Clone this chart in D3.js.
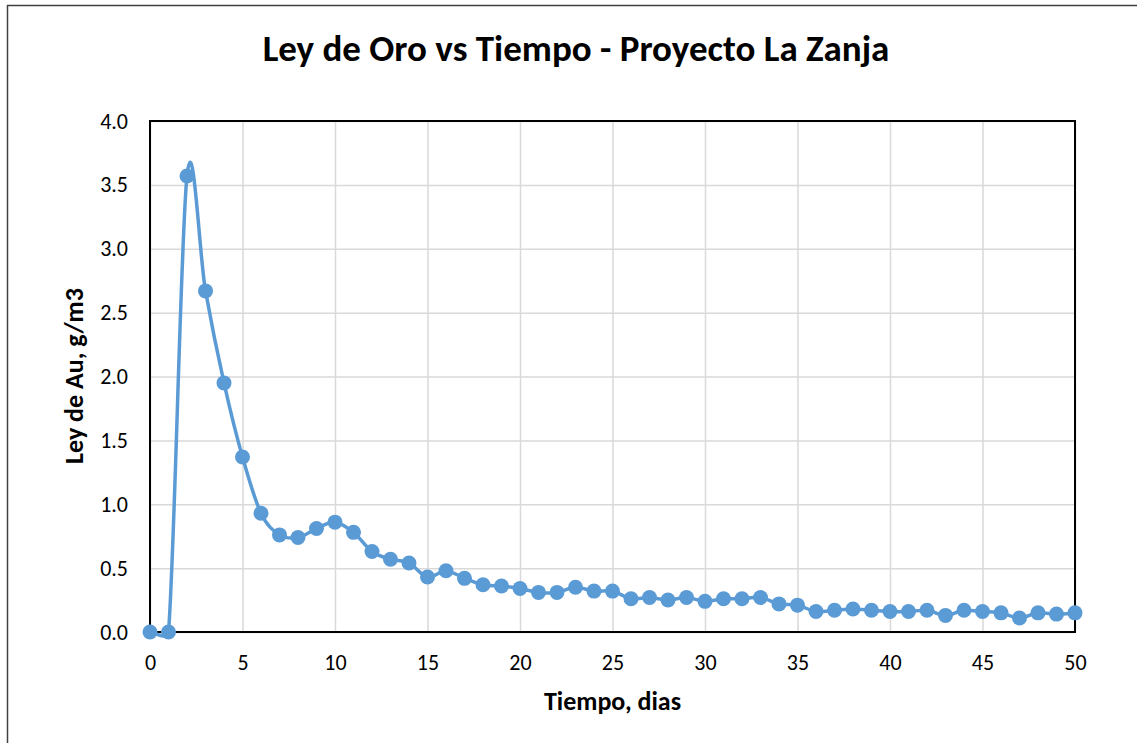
<!DOCTYPE html>
<html>
<head>
<meta charset="utf-8">
<script src="https://cdn.jsdelivr.net/npm/d3@7"></script>
<style>
  body { margin: 0; background: #fff; }
  text { font-family: Carlito, "Liberation Sans", Arial, sans-serif; fill: #000; }
</style>
</head>
<body>
<div id="chart"></div>
<script>
// days of leaching
var dias = [0, 1, 2, 3, 4, 5, 6, 7, 8, 9, 10, 11, 12, 13, 14, 15, 16, 17, 18, 19, 20,
    21, 22, 23, 24, 25, 26, 27, 28, 29, 30, 31, 32, 33, 34, 35, 36, 37, 38, 39, 40,
    41, 42, 43, 44, 45, 46, 47, 48, 49, 50];
// gold grade, g/m3
var leyAu = [0, 0, 3.57, 2.67, 1.95, 1.37, 0.93, 0.76, 0.74, 0.81, 0.86, 0.78, 0.63, 0.57, 0.54, 0.43, 0.48,
    0.42, 0.37, 0.36, 0.34, 0.31, 0.31, 0.35, 0.32, 0.32, 0.26, 0.27, 0.25, 0.27, 0.24,
    0.26, 0.26, 0.27, 0.22, 0.21, 0.16, 0.17, 0.18, 0.17, 0.16, 0.16, 0.17, 0.13, 0.17,
    0.16, 0.15, 0.11, 0.15, 0.14, 0.15];
var xTicks = [0, 5, 10, 15, 20, 25, 30, 35, 40, 45, 50];
var yTicks = [0, 0.5, 1.0, 1.5, 2.0, 2.5, 3.0, 3.5, 4.0];

var titulo = "Ley de Oro vs Tiempo - Proyecto La Zanja";
var xTitulo = "Tiempo, dias";
var yTitulo = "Ley de Au, g/m3";

// spreadsheet-style smoothing: catmull-rom handles (1/6 of the neighbour chord),
// clamped to half of the segment they sit on so short segments don't loop
function SmoothCurve(context) {
    this._context = context;
}
SmoothCurve.prototype = {
    areaStart: function () { this._line = 0; },
    areaEnd: function () { this._line = NaN; },
    lineStart: function () { this._pts = []; },
    point: function (x, y) { this._pts.push([+x, +y]); },
    lineEnd: function () {
        var p = this._pts, n = p.length, ctx = this._context;
        if (!n) return;
        ctx.moveTo(p[0][0], p[0][1]);
        if (n === 1) return;

        function dist(a, b) { return Math.hypot(b[0] - a[0], b[1] - a[1]); }
        function handles(i) {
            var prev = p[Math.max(i - 1, 0)], next = p[Math.min(i + 1, n - 1)];
            var tx = (next[0] - prev[0]) / 6, ty = (next[1] - prev[1]) / 6;
            var tl = Math.hypot(tx, ty) || 1;
            var dp = i > 0 ? dist(p[i - 1], p[i]) : 0;
            var dn = i < n - 1 ? dist(p[i], p[i + 1]) : 0;
            var kIn = Math.min(1, dp / 2 / tl), kOut = Math.min(1, dn / 2 / tl);
            return {
                inX: p[i][0] - tx * kIn, inY: p[i][1] - ty * kIn,
                outX: p[i][0] + tx * kOut, outY: p[i][1] + ty * kOut
            };
        }
        var h = p.map(function (d, i) { return handles(i); });
        for (var i = 0; i < n - 1; i++) {
            ctx.bezierCurveTo(h[i].outX, h[i].outY, h[i + 1].inX, h[i + 1].inY, p[i + 1][0], p[i + 1][1]);
        }
    }
};
function curveSmooth(context) { return new SmoothCurve(context); }

function draw() {
    var W = 1137, H = 743;
    var margin = { top: 121, right: 62, bottom: 111, left: 150 };
    var width = W - margin.left - margin.right;
    var height = H - margin.top - margin.bottom;

    var points = dias.map(function (d, i) { return { x: d, y: leyAu[i] }; });

    var svg = d3.select("#chart").append("svg")
        .attr("width", W)
        .attr("height", H);

    // outer chart border
    svg.append("rect")
        .attr("x", 7.5).attr("y", 5.5)
        .attr("width", W + 20).attr("height", H + 20)
        .attr("fill", "none")
        .attr("stroke", "#404040")
        .attr("stroke-width", 1.5);

    svg.append("text")
        .attr("x", 576)
        .attr("y", 61)
        .attr("text-anchor", "middle")
        .style("font-size", "37px")
        .style("font-weight", "bold")
        .text(titulo);

    var g = svg.append("g")
        .attr("transform", "translate(" + margin.left + "," + margin.top + ")");

    var xScale = d3.scaleLinear().domain([0, 50]).range([0, width]);
    var yScale = d3.scaleLinear().domain([0, 4]).range([height, 0]);

    // grid + tick labels
    var xAxis = d3.axisBottom(xScale)
        .tickValues(xTicks)
        .tickSizeInner(-height)
        .tickSizeOuter(0)
        .tickPadding(22)
        .tickFormat(d3.format("d"));
    var yAxis = d3.axisLeft(yScale)
        .tickValues(yTicks)
        .tickSizeInner(-width)
        .tickSizeOuter(0)
        .tickPadding(22)
        .tickFormat(d3.format(".1f"));

    var gx = g.append("g")
        .attr("transform", "translate(0," + height + ")")
        .call(xAxis);
    var gy = g.append("g").call(yAxis);

    [gx, gy].forEach(function (ax) {
        ax.select(".domain").remove();
        ax.selectAll(".tick line")
            .attr("stroke", "#d9d9d9")
            .attr("stroke-width", 1.5);
        ax.selectAll(".tick text")
            .style("font-size", "22px")
            .attr("fill", "#000");
    });
    gx.selectAll(".tick text").attr("dy", "0.71em");

    // plot area border
    g.append("rect")
        .attr("x", 0).attr("y", 0)
        .attr("width", width).attr("height", height)
        .attr("fill", "none")
        .attr("stroke", "#000")
        .attr("stroke-width", 2);

    // axis titles
    svg.append("text")
        .attr("x", margin.left + width / 2)
        .attr("y", 710)
        .attr("text-anchor", "middle")
        .style("font-size", "26px")
        .style("font-weight", "bold")
        .text(xTitulo);

    svg.append("text")
        .attr("transform", "translate(83," + 376 + ") rotate(-90)")
        .attr("text-anchor", "middle")
        .style("font-size", "26px")
        .style("font-weight", "bold")
        .text(yTitulo);

    // smoothed line
    var line = d3.line()
        .x(function (d) { return xScale(d.x); })
        .y(function (d) { return yScale(d.y); })
        .curve(curveSmooth);

    g.append("path")
        .datum(points)
        .attr("d", line)
        .attr("fill", "none")
        .attr("stroke", "#5b9bd5")
        .attr("stroke-width", 3.5);

    g.selectAll(".dot")
        .data(points)
        .enter()
        .append("circle")
        .attr("class", "dot")
        .attr("cx", function (d) { return xScale(d.x); })
        .attr("cy", function (d) { return yScale(d.y); })
        .attr("r", 7.5)
        .attr("fill", "#5b9bd5");
}

draw();
</script>
</body>
</html>
